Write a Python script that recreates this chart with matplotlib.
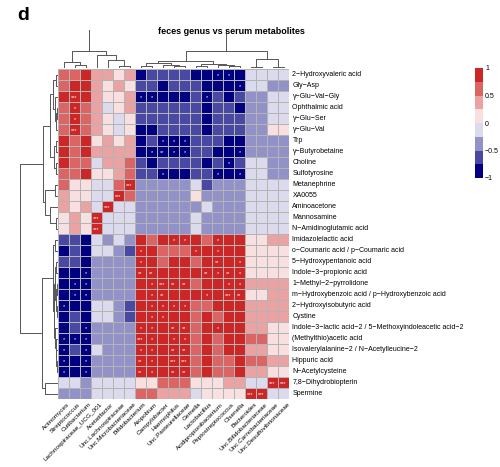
import numpy as np
import matplotlib.pyplot as plt
from matplotlib.colors import ListedColormap, BoundaryNorm

plt.rcParams['font.family'] = ['Liberation Sans', 'DejaVu Sans']

genera = ["Actinomyces", "Streptococcus", "Cutibacterium", "Lachnospiraceae_UCG_001",
          "Acetatifactor", "Unc.Lachnospiraceae", "Unc.Microbacteriaceae", "Bifidobacterium",
          "Atopobium", "Campylobacter", "Haemophilus", "Unc.Pasteurellaceae", "Gemella",
          "Lactobacillus", "Acidipropionibacterium", "Peptostreptococcus", "Olsenella",
          "Bacteroides", "Unc.Bifidobacteriaceae", "Unc.Carnobacteriaceae",
          "Unc.Desulfovibrionaceae"]

metabolites = ["2\u2212Hydroxyvaleric acid", "Gly\u2212Asp", "\u03b3\u2212Glu\u2212Val\u2212Gly",
               "Ophthalmic acid", "\u03b3\u2212Glu\u2212Ser", "\u03b3\u2212Glu\u2212Val", "Trp",
               "\u03b3\u2212Butyrobetaine", "Choline", "Sulfotyrosine", "Metanephrine", "XA0055",
               "Aminoacetone", "Mannosamine", "N\u2212Amidinoglutamic acid",
               "Imidazolelactic acid", "o\u2212Coumaric acid / p\u2212Coumaric acid",
               "5\u2212Hydroxypentanoic acid", "Indole\u22123\u2212propionic acid",
               "1\u2212Methyl\u22122\u2212pyrrolidone",
               "m\u2212Hydroxybenzoic acid / p\u2212Hydroxybenzoic acid",
               "2\u2212Hydroxyisobutyric acid", "Cystine",
               "Indole\u22123\u2212lactic acid\u22122 / 5\u2212Methoxyindoleacetic acid\u22122",
               "(Methylthio)acetic acid",
               "Isovalerylalanine\u22122 / N\u2212Acetylleucine\u22122", "Hippuric acid",
               "N\u2212Acetylcysteine", "7,8\u2212Dihydrobiopterin", "Spermine"]

# spearman r, estimated from the colour bins (rows = metabolites, cols = genera)
corr = np.array([
    [0.62, 0.62, 0.85, 0.38, 0.38, 0.12, 0.38, -0.85, -0.62, -0.62, -0.62, -0.62, -0.85, -0.85, -0.85, -0.85, -0.85, -0.12, -0.12, -0.12, -0.12],
    [0.62, 0.85, 0.85, 0.38, 0.12, 0.38, 0.12, -0.62, -0.62, -0.85, -0.62, -0.62, -0.62, -0.85, -0.85, -0.85, -0.85, -0.12, -0.12, -0.38, -0.38],
    [0.85, 0.85, 0.85, 0.38, 0.12, 0.12, 0.38, -0.85, -0.85, -0.85, -0.85, -0.85, -0.62, -0.85, -0.62, -0.85, -0.62, -0.38, -0.38, -0.12, -0.12],
    [0.62, 0.85, 0.62, 0.38, -0.12, 0.12, 0.38, -0.62, -0.62, -0.62, -0.62, -0.62, -0.62, -0.85, -0.62, -0.62, -0.85, -0.38, -0.38, -0.12, -0.12],
    [0.62, 0.85, 0.62, 0.38, 0.12, -0.12, 0.12, -0.62, -0.62, -0.62, -0.62, -0.62, -0.62, -0.85, -0.62, -0.62, -0.62, -0.38, -0.38, -0.12, -0.12],
    [0.62, 0.85, 0.62, 0.38, 0.12, -0.12, 0.12, -0.85, -0.85, -0.62, -0.62, -0.62, -0.62, -0.85, -0.62, -0.62, -0.62, -0.38, -0.38, 0.12, 0.12],
    [0.85, 0.62, 0.85, 0.12, 0.38, 0.12, 0.38, -0.85, -0.62, -0.85, -0.85, -0.85, -0.62, -0.62, -0.62, -0.85, -0.85, -0.38, -0.38, -0.38, -0.38],
    [0.85, 0.62, 0.85, 0.38, 0.38, 0.38, 0.38, -0.85, -0.85, -0.85, -0.85, -0.85, -0.62, -0.62, -0.85, -0.85, -0.85, -0.38, -0.38, -0.38, -0.38],
    [0.85, 0.62, 0.62, -0.12, 0.38, 0.38, 0.62, -0.62, -0.85, -0.62, -0.62, -0.62, -0.62, -0.85, -0.62, -0.85, -0.62, -0.12, -0.12, -0.38, -0.38],
    [0.62, 0.62, 0.85, 0.12, 0.12, 0.38, 0.62, -0.62, -0.62, -0.85, -0.85, -0.85, -0.62, -0.62, -0.85, -0.85, -0.85, -0.12, -0.12, -0.38, -0.38],
    [0.62, 0.12, 0.12, -0.12, -0.12, 0.62, 0.85, -0.38, -0.38, -0.38, -0.38, -0.38, -0.12, -0.62, -0.38, -0.38, -0.38, -0.12, -0.12, -0.12, -0.12],
    [0.38, 0.12, 0.12, -0.12, -0.12, 0.85, 0.62, -0.38, -0.38, -0.38, -0.38, -0.38, 0.12, -0.38, -0.38, -0.38, -0.38, -0.12, -0.12, -0.12, -0.12],
    [0.38, 0.12, 0.38, -0.12, 0.85, -0.12, -0.12, -0.38, -0.38, -0.38, -0.38, -0.38, -0.38, -0.12, -0.38, -0.38, -0.38, -0.12, -0.12, -0.12, -0.12],
    [0.12, 0.38, 0.12, 0.85, -0.12, -0.12, -0.12, -0.38, -0.38, -0.38, -0.38, -0.38, -0.12, -0.38, -0.38, -0.38, -0.38, -0.12, -0.12, -0.12, -0.12],
    [0.12, 0.38, 0.12, 0.85, -0.12, -0.12, -0.12, -0.38, -0.38, -0.38, -0.38, -0.38, -0.12, -0.38, -0.38, -0.38, -0.38, -0.12, -0.12, -0.12, -0.12],
    [-0.62, -0.62, -0.85, -0.12, -0.38, -0.12, -0.38, 0.85, 0.62, 0.85, 0.85, 0.85, 0.85, 0.62, 0.85, 0.85, 0.85, 0.12, 0.12, 0.38, 0.38],
    [-0.85, -0.62, -0.85, -0.12, -0.12, -0.38, -0.62, 0.85, 0.85, 0.62, 0.62, 0.62, 0.85, 0.85, 0.85, 0.85, 0.85, 0.12, 0.12, 0.12, 0.12],
    [-0.62, -0.62, -0.85, -0.38, -0.38, -0.38, -0.38, 0.85, 0.85, 0.62, 0.85, 0.85, 0.62, 0.85, 0.85, 0.85, 0.85, 0.12, 0.12, 0.12, 0.12],
    [-0.85, -0.85, -0.85, -0.38, -0.38, -0.38, -0.38, 0.85, 0.85, 0.85, 0.85, 0.85, 0.85, 0.85, 0.85, 0.85, 0.85, 0.12, 0.12, 0.12, 0.12],
    [-0.85, -0.85, -0.85, -0.38, -0.38, -0.38, -0.38, 0.85, 0.85, 0.85, 0.85, 0.85, 0.62, 0.85, 0.85, 0.85, 0.85, 0.38, 0.38, 0.38, 0.38],
    [-0.85, -0.85, -0.85, -0.38, -0.38, -0.38, -0.38, 0.85, 0.85, 0.85, 0.85, 0.85, 0.85, 0.85, 0.85, 0.85, 0.85, 0.12, 0.12, 0.38, 0.38],
    [-0.85, -0.85, -0.85, -0.12, -0.12, -0.38, -0.62, 0.85, 0.85, 0.85, 0.85, 0.85, 0.62, 0.62, 0.85, 0.85, 0.85, 0.38, 0.38, 0.38, 0.38],
    [-0.85, -0.62, -0.85, -0.12, -0.12, -0.38, -0.62, 0.85, 0.85, 0.85, 0.85, 0.85, 0.62, 0.85, 0.62, 0.85, 0.85, 0.38, 0.38, 0.38, 0.38],
    [-0.85, -0.62, -0.85, -0.38, -0.38, -0.38, -0.38, 0.85, 0.85, 0.85, 0.85, 0.85, 0.62, 0.85, 0.85, 0.85, 0.85, 0.38, 0.38, 0.12, 0.12],
    [-0.85, -0.85, -0.85, -0.38, -0.38, -0.38, -0.38, 0.85, 0.85, 0.85, 0.85, 0.85, 0.62, 0.85, 0.62, 0.85, 0.85, 0.62, 0.62, 0.12, 0.12],
    [-0.85, -0.62, -0.85, -0.12, -0.38, -0.38, -0.38, 0.85, 0.85, 0.85, 0.85, 0.85, 0.62, 0.85, 0.62, 0.85, 0.85, 0.38, 0.38, 0.12, 0.12],
    [-0.85, -0.85, -0.85, -0.38, -0.38, -0.38, -0.38, 0.85, 0.85, 0.85, 0.85, 0.85, 0.62, 0.85, 0.62, 0.62, 0.85, 0.62, 0.62, 0.38, 0.38],
    [-0.85, -0.85, -0.85, -0.38, -0.38, -0.38, -0.38, 0.85, 0.85, 0.85, 0.85, 0.85, 0.62, 0.85, 0.62, 0.62, 0.85, 0.38, 0.38, 0.12, 0.12],
    [-0.12, -0.12, -0.38, -0.12, -0.12, -0.12, -0.12, 0.12, 0.12, 0.62, 0.62, 0.62, 0.12, 0.12, 0.12, 0.38, 0.38, -0.12, -0.12, 0.85, 0.85],
    [-0.38, -0.38, -0.38, -0.12, -0.12, -0.12, -0.12, 0.62, 0.62, 0.38, 0.38, 0.38, -0.12, 0.12, 0.12, 0.12, 0.12, 0.85, 0.85, -0.12, -0.12],
])

# number of stars per cell, one string per metabolite
stars = [
    "000000000000001100000",
    "000000000000000010000",
    "030000011000010000000",
    "010000000000000000000",
    "010000000000000000000",
    "030000000000000000000",
    "000000000111000000000",
    "000000001211000010000",
    "000000000000000100000",
    "000000000100001010000",
    "000000300000000000000",
    "000003000000000000000",
    "000030000000000000000",
    "000300000000000000000",
    "000300000000000000000",
    "000000000011001000000",
    "000000010000101000000",
    "000000010000002010000",
    "001000022000021210000",
    "011000001322000110000",
    "011000001200010320000",
    "100000001111000000000",
    "000000001100000000000",
    "001000011022001000000",
    "111000031011000000000",
    "101000011022000000000",
    "101000021033000000000",
    "101000021022000000000",
    "000000000000000000033",
    "000000000000000003300",
]

# cluster trees: (left, right, height), leaves are indices
col_tree = (((0, (1, 2, 0.08), 0.16), (3, (4, (5, 6, 0.06), 0.2), 0.33), 0.43),
            ((((7, 8, 0.05), (9, (10, 11, 0.04), 0.08), 0.12),
              ((12, 13, 0.05), (14, (15, 16, 0.04), 0.07), 0.1), 0.17),
             ((17, 18, 0.03), (19, 20, 0.03), 0.22), 0.43), 1.0)

row_tree = (((((0, 1, 0.05), (2, ((3, 4, 0.03), 5, 0.05), 0.07), 0.12),
              ((6, 7, 0.05), (8, 9, 0.05), 0.1), 0.2),
             ((10, 11, 0.08), (12, (13, 14, 0.04), 0.2), 0.34), 0.39),
            (((15, 16, 0.08),
              (((17, 18, 0.05), ((19, 20, 0.03), (21, 22, 0.03), 0.06), 0.08),
               (23, (24, (25, (26, 27, 0.02), 0.04), 0.06), 0.08), 0.1), 0.13),
             (28, 29, 0.34), 0.42), 1.0)

palette = ["#000080", "#4949A4", "#9292C9", "#DBDBED",
           "#F8E0E0", "#EAA2A2", "#DB6464", "#CD2626"]
bounds = np.linspace(-1, 1, 9)
cmap = ListedColormap(palette)
norm = BoundaryNorm(bounds, cmap.N)

W, H = 500, 467
fig = plt.figure(figsize=(W / 100, H / 100), dpi=100)


def px_axes(x0, y0, x1, y1):
    return fig.add_axes([x0 / W, 1 - y1 / H, (x1 - x0) / W, (y1 - y0) / H])


def draw_tree(ax, node, top):
    if isinstance(node, int):
        return node + 0.5, 0.0
    left, right, h = node
    p1, h1 = draw_tree(ax, left, top)
    p2, h2 = draw_tree(ax, right, top)
    a, b = [p1, p1, p2, p2], [h1, h, h, h2]
    if top:
        ax.plot(a, b, color="#555555", lw=0.7, solid_capstyle="butt")
    else:
        ax.plot(b, a, color="#555555", lw=0.7, solid_capstyle="butt")
    return (p1 + p2) / 2, h


nr, nc = corr.shape

# heatmap
ax = px_axes(58, 69, 289, 399)
ax.pcolormesh(np.arange(nc + 1), np.arange(nr + 1), corr, cmap=cmap, norm=norm,
              edgecolors="#b4b4b4", linewidth=0.6)
ax.set_xlim(0, nc)
ax.set_ylim(nr, 0)
ax.axis("off")

for i in range(nr):
    for j in range(nc):
        n = int(stars[i][j])
        if n:
            ax.text(j + 0.5, i + 0.62, "*" * n, color="white", fontsize=4,
                    ha="center", va="center")

for i, name in enumerate(metabolites):
    ax.annotate(name, xy=(nc, i + 0.5), xytext=(2.5, 0), textcoords="offset points",
                fontsize=5, va="center", ha="left", annotation_clip=False)

for j, name in enumerate(genera):
    ax.annotate(name, xy=(j + 0.5, nr), xytext=(2.5, -2), textcoords="offset points",
                fontsize=4.6, va="top", ha="right", rotation=45, rotation_mode="anchor",
                annotation_clip=False)

# column dendrogram
axc = px_axes(58, 30, 289, 68)
draw_tree(axc, col_tree, True)
axc.set_xlim(0, nc)
axc.set_ylim(0, 0.97)
axc.axis("off")

# row dendrogram
axr = px_axes(19, 69, 58, 399)
draw_tree(axr, row_tree, False)
axr.set_ylim(nr, 0)
axr.set_xlim(39 / 38, 0)
axr.axis("off")

# legend
axl = px_axes(475, 68, 483, 178)
axl.pcolormesh([0, 1], bounds, np.array(bounds[:-1] + 0.125).reshape(-1, 1),
               cmap=cmap, norm=norm)
axl.set_xlim(0, 1)
axl.set_ylim(-1, 1)
axl.set_xticks([])
axl.yaxis.tick_right()
axl.set_yticks([1, 0.5, 0, -0.5, -1])
axl.set_yticklabels(["1", "0.5", "0", "\u22120.5", "\u22121"], fontsize=5)
axl.tick_params(axis="y", length=0, pad=1.5)
for s in axl.spines.values():
    s.set_visible(False)

fig.text(0.462, 1 - 32 / H, "feces genus vs serum metabolites", fontsize=6.5,
         fontweight="bold", ha="center", va="center")
fig.text(0.034, 1 - 15 / H, "d", fontsize=14, fontweight="bold", ha="left", va="center")

fig.savefig("out.png", dpi=100)
